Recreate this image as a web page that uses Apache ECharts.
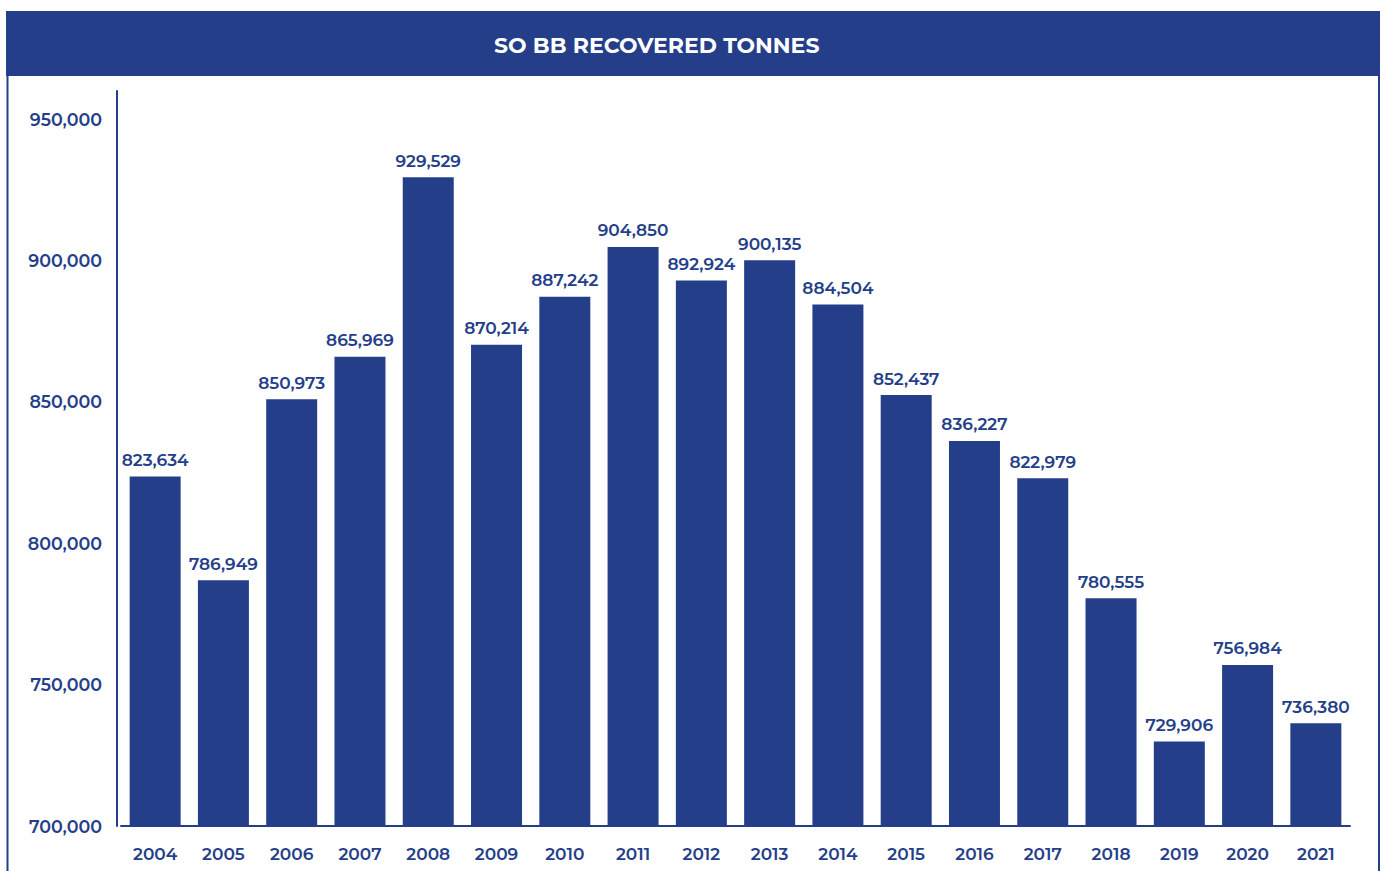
<!DOCTYPE html>
<html><head><meta charset="utf-8">
<script src="https://cdn.jsdelivr.net/npm/echarts@6/dist/echarts.min.js"></script>
<style>html,body{margin:0;padding:0;background:#fff}#c{width:1387px;height:871px}</style>
</head><body><div id="c"></div>
<script>
const years = ['2004','2005','2006','2007','2008','2009','2010','2011','2012','2013','2014','2015','2016','2017','2018','2019','2020','2021'];
const tonnes = [823634,786949,850973,865969,929529,870214,887242,904850,892924,900135,884504,852437,836227,822979,780555,729906,756984,736380];
const titleText = 'SO BB RECOVERED TONNES';
const navy = '#243e8a';
const fontFam = 'Montserrat, Lato, "Noto Sans", sans-serif';
const fmt = v => v.toLocaleString('en-US');
const chart = echarts.init(document.getElementById('c'), null, {renderer:'svg'});
chart.setOption({
  animation:false,
  backgroundColor:'#fff',
  graphic:[
    {type:'rect', shape:{x:6,y:11,width:1374,height:65}, style:{fill:navy}},
    {type:'line', shape:{x1:7.5,y1:76,x2:7.5,y2:871}, style:{stroke:navy,lineWidth:2}},
    {type:'line', shape:{x1:1379,y1:76,x2:1379,y2:871}, style:{stroke:navy,lineWidth:2}}
  ],
  title:{text:titleText, left:489, top:29, textStyle:{color:'#fff', fontSize:22, fontWeight:'bold', fontFamily:fontFam}},
  grid:{left:121, right:37, top:91, bottom:45, containLabel:false},
  xAxis:{type:'category', data:years,
    axisLine:{lineStyle:{color:navy,width:2}}, axisTick:{show:false},
    axisLabel:{color:navy, fontSize:17, fontWeight:600, fontFamily:fontFam, margin:19}},
  yAxis:{type:'value', min:700000, max:960000, interval:50000, offset:4,
    axisLine:{show:true, lineStyle:{color:navy,width:2}}, axisTick:{show:false}, splitLine:{show:false},
    axisLabel:{color:navy, fontSize:17.5, fontWeight:600, fontFamily:fontFam, margin:15, formatter:v=>v>950000?'':fmt(v)}},
  series:[{type:'bar', data:tonnes, barWidth:51, itemStyle:{color:navy},
    label:{show:true, position:'top', distance:8, color:navy, fontSize:17, fontWeight:600, fontFamily:fontFam, formatter:p=>fmt(p.value)}}]
});
</script></body></html>
